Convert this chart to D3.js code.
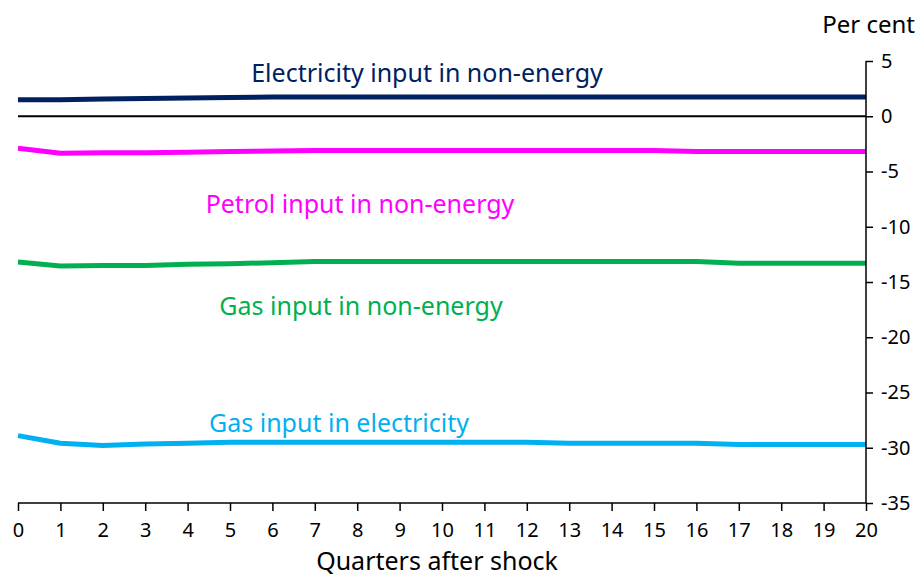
<!DOCTYPE html>
<html>
<head>
<meta charset="utf-8">
<script src="https://cdn.jsdelivr.net/npm/d3@7"></script>
<style>
  body { margin: 0; background: #fff; }
  text { font-family: "Noto Sans", "Open Sans", sans-serif; }
</style>
</head>
<body>
<div class="container"></div>
<script>
// quarters after shock
var quarters = d3.range(0, 21);

// per cent deviation
var electricityNonEnergy = [1.5, 1.5, 1.55, 1.6, 1.65, 1.7, 1.75, 1.75, 1.75, 1.75, 1.75, 1.75, 1.75, 1.75, 1.75, 1.75, 1.75, 1.75, 1.75, 1.75, 1.75];
var petrolNonEnergy = [-2.9, -3.35, -3.3, -3.3, -3.25, -3.2, -3.15, -3.1, -3.1, -3.1, -3.1, -3.1, -3.1, -3.1, -3.1, -3.1, -3.2, -3.2, -3.2, -3.2, -3.2];
var gasNonEnergy = [-13.2, -13.55, -13.5, -13.5, -13.4, -13.35, -13.25, -13.15, -13.15, -13.15, -13.15, -13.15, -13.15, -13.15, -13.15, -13.15, -13.15, -13.3, -13.3, -13.3, -13.3];
var gasElectricity = [-28.9, -29.6, -29.8, -29.65, -29.6, -29.5, -29.5, -29.5, -29.5, -29.5, -29.5, -29.5, -29.5, -29.6, -29.6, -29.6, -29.6, -29.7, -29.7, -29.7, -29.7];

var yTicks = [5, 0, -5, -10, -15, -20, -25, -30, -35];

var series = [
    { name: "Electricity input in non-energy", values: electricityNonEnergy, color: "#002060", lx: 427, ly: 82 },
    { name: "Petrol input in non-energy", values: petrolNonEnergy, color: "#ff00ff", lx: 360, ly: 213 },
    { name: "Gas input in non-energy", values: gasNonEnergy, color: "#00b050", lx: 361, ly: 315 },
    { name: "Gas input in electricity", values: gasElectricity, color: "#00b0f0", lx: 339, ly: 432 }
];

const width = 922,
    height = 576,
    plotLeft = 18,
    plotRight = 866,
    plotTop = 61,
    plotBottom = 503;

const svg = d3.select('.container').append('svg')
    .attr('width', width)
    .attr('height', height);

const x = d3.scaleLinear().domain([0, 20]).range([plotLeft, plotRight]);
const y = d3.scaleLinear().domain([-35, 5]).range([plotBottom, plotTop]);

// zero line
svg.append('line')
    .attr('x1', plotLeft).attr('x2', plotRight)
    .attr('y1', y(0)).attr('y2', y(0))
    .attr('stroke', '#000').attr('stroke-width', 2);

// series lines
const line = d3.line()
    .x((d, i) => x(quarters[i]))
    .y(d => y(d));

series.forEach(s => {
    svg.append('path')
        .datum(s.values)
        .attr('fill', 'none')
        .attr('stroke', s.color)
        .attr('stroke-width', 5)
        .attr('stroke-linejoin', 'round')
        .attr('d', line);

    svg.append('text')
        .attr('x', s.lx)
        .attr('y', s.ly)
        .attr('text-anchor', 'middle')
        .attr('font-size', '25px')
        .attr('fill', s.color)
        .text(s.name);
});

// x axis
const xAxis = svg.append('g')
    .attr('transform', `translate(0,${plotBottom})`)
    .call(d3.axisBottom(x).tickValues(quarters).tickSize(8).tickPadding(12).tickFormat(d => String(d)));
xAxis.select('.domain').attr('stroke-width', 1.5).attr('d', `M${plotLeft},0H${plotRight}`);
xAxis.selectAll('.tick line').attr('stroke-width', 1.5);
xAxis.selectAll('text').attr('font-size', '20px').attr('fill', '#000');

// y axis on the right, plain hyphen minus like the original
const yAxis = svg.append('g')
    .attr('transform', `translate(${plotRight},0)`)
    .call(d3.axisRight(y).tickValues(yTicks).tickSize(7).tickPadding(8).tickFormat(d => String(d)));
yAxis.select('.domain').attr('stroke-width', 1.5).attr('d', `M0,${plotTop}V${plotBottom}`);
yAxis.selectAll('.tick line').attr('stroke-width', 1.5);
yAxis.selectAll('text').attr('font-size', '20px').attr('fill', '#000');

// axis titles
svg.append('text')
    .attr('x', 915).attr('y', 33)
    .attr('text-anchor', 'end')
    .attr('font-size', '24px')
    .text('Per cent');

svg.append('text')
    .attr('x', 437).attr('y', 570)
    .attr('text-anchor', 'middle')
    .attr('font-size', '25px')
    .text('Quarters after shock');
</script>
</body>
</html>
